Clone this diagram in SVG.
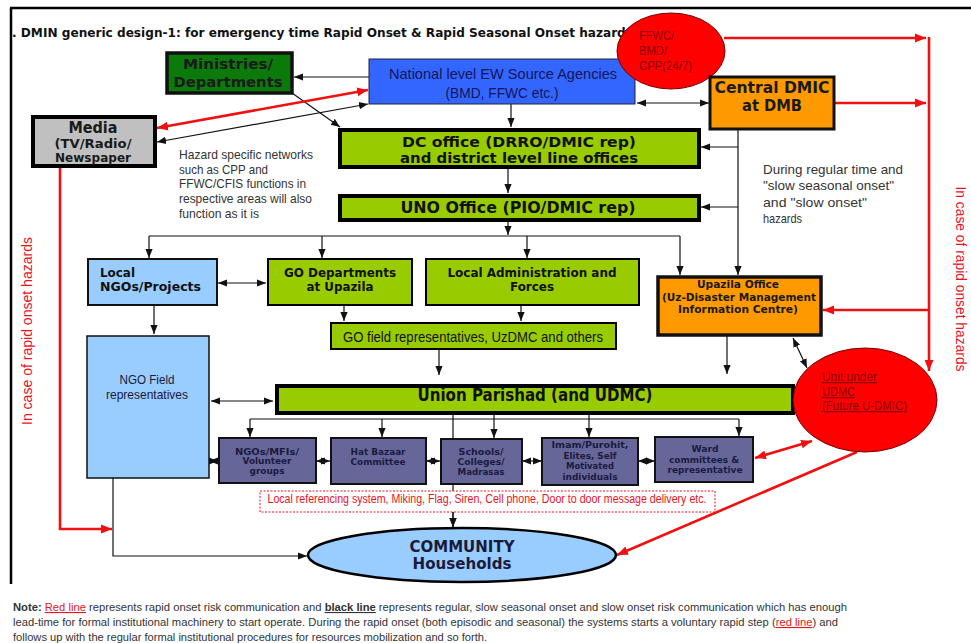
<svg xmlns="http://www.w3.org/2000/svg" width="971" height="643" viewBox="0 0 971 643">
<defs>
<style>
.b{font-family:"DejaVu Sans",Verdana,sans-serif;font-weight:bold;text-anchor:middle}
.n{font-family:"Liberation Sans",Arial,sans-serif;text-anchor:middle}
.nl{font-family:"Liberation Sans",Arial,sans-serif}
.k{fill:none;stroke:#111;stroke-width:1.2}
.r{fill:none;stroke:#f01010;stroke-width:2.6}
.grn{fill:#99cc00;stroke:#000}
.pur{fill:#666699;stroke:#111;stroke-width:2}
.pt{font-family:"DejaVu Sans",Verdana,sans-serif;font-weight:bold;text-anchor:middle;font-size:9px;fill:#1a1a40}
</style>
<marker id="a" viewBox="0 0 10 10" refX="10" refY="5" markerWidth="9" markerHeight="9" markerUnits="userSpaceOnUse" orient="auto-start-reverse"><path d="M0,1 L10,5 L0,9z" fill="#111"/></marker>
<marker id="ra" viewBox="0 0 10 10" refX="10" refY="5" markerWidth="11" markerHeight="11" markerUnits="userSpaceOnUse" orient="auto-start-reverse"><path d="M0,1 L10,5 L0,9z" fill="#f01010"/></marker>
</defs>
<rect width="971" height="643" fill="#fff"/>
<g id="frame" fill="none" stroke="#000" stroke-width="2.5">
<path d="M10,8 H971 M11,8 V584"/>
</g>
<text x="12" y="37" font-family="DejaVu Sans,Verdana,sans-serif" font-weight="bold" font-size="12" fill="#111" textLength="621" lengthAdjust="spacingAndGlyphs">. DMIN generic design-1: for emergency time Rapid Onset &amp; Rapid Seasonal Onset hazards</text>

<g id="connectors">
<path class="k" d="M369,77 H294" marker-end="url(#a)"/>
<path class="k" d="M292,93 L340,127" marker-end="url(#a)"/>
<path class="k" d="M368,104 L157,142" marker-start="url(#a)" marker-end="url(#a)"/>
<path class="k" d="M511,104 V127" marker-end="url(#a)"/>
<path class="k" d="M637,103 H709" marker-start="url(#a)" marker-end="url(#a)"/>
<path class="k" d="M508,168 V193" marker-end="url(#a)"/>
<path class="k" d="M738,129 V275" marker-end="url(#a)"/>
<path class="k" d="M738,147 H701" marker-end="url(#a)"/>
<path class="k" d="M738,207 H701" marker-end="url(#a)"/>
<path class="k" d="M508,221 V235" marker-end="url(#a)"/>
<path class="k" d="M149,236 H680"/>
<path class="k" d="M149,236 V258" marker-end="url(#a)"/>
<path class="k" d="M322,236 V258" marker-end="url(#a)"/>
<path class="k" d="M527,236 V258" marker-end="url(#a)"/>
<path class="k" d="M680,236 V275" marker-end="url(#a)"/>
<path class="k" d="M218,283 H266" marker-start="url(#a)" marker-end="url(#a)"/>
<path class="k" d="M344,305 V321" marker-end="url(#a)"/>
<path class="k" d="M521,305 V321" marker-end="url(#a)"/>
<path class="k" d="M154,305 V334" marker-end="url(#a)"/>
<path class="k" d="M439,349 V375" marker-end="url(#a)"/>
<path class="k" d="M727,336 V374" marker-end="url(#a)"/>
<path class="k" d="M793,338 L807,368" marker-start="url(#a)" marker-end="url(#a)"/>
<path class="k" d="M211,401 H273" marker-start="url(#a)" marker-end="url(#a)"/>
<path class="k" d="M250,419 H739"/>
<path class="k" d="M250,419 V437" marker-end="url(#a)"/>
<path class="k" d="M382,419 V437" marker-end="url(#a)"/>
<path class="k" d="M494,414 V438" marker-end="url(#a)"/>
<path class="k" d="M589,414 V437" marker-end="url(#a)"/>
<path class="k" d="M739,419 V436" marker-end="url(#a)"/>
<path class="k" d="M453,414 V527" marker-end="url(#a)"/>
<path class="k" d="M209,461 H218" marker-start="url(#a)" marker-end="url(#a)"/>
<path class="k" d="M316,461 H330" marker-start="url(#a)" marker-end="url(#a)"/>
<path class="k" d="M426,461 H440" marker-start="url(#a)" marker-end="url(#a)"/>
<path class="k" d="M522,461 H542" marker-start="url(#a)" marker-end="url(#a)"/>
<path class="k" d="M638,461 H655" marker-start="url(#a)" marker-end="url(#a)"/>
<path class="k" d="M113,478 V556 H307" marker-end="url(#a)"/>
<path class="r" d="M157,128 L368,90" marker-start="url(#ra)" marker-end="url(#ra)"/>
<path class="r" d="M724,38 H926" marker-end="url(#ra)"/>
<path class="r" d="M835,103 H926" marker-end="url(#ra)"/>
<path class="r" d="M929,37 V371" marker-end="url(#ra)"/>
<path class="r" d="M929,310 H823" marker-end="url(#ra)"/>
<path class="r" d="M812,441 L755,458" marker-start="url(#ra)" marker-end="url(#ra)"/>
<path class="r" d="M857,452 L617,555" marker-end="url(#ra)"/>
<path class="r" d="M60,167 V529 H112" marker-end="url(#ra)"/>
</g>

<g id="ministries">
<rect x="167" y="53" width="125" height="40" fill="#0b7a0b" stroke="#111" stroke-width="3.5"/>
<text class="b" x="228" y="69" font-size="14" fill="#1a1a1a" textLength="90" lengthAdjust="spacingAndGlyphs">Ministries/</text>
<text class="b" x="228" y="87" font-size="14" fill="#1a1a1a" textLength="109" lengthAdjust="spacingAndGlyphs">Departments</text>
</g>
<g id="national">
<rect x="369" y="59" width="266" height="45" fill="#3366ff" stroke="#223" stroke-width="1"/>
<text class="n" x="503" y="79" font-size="15" fill="#14145a" textLength="228" lengthAdjust="spacingAndGlyphs">National level EW Source Agencies</text>
<text class="n" x="502" y="98" font-size="15" fill="#14145a" textLength="113" lengthAdjust="spacingAndGlyphs">(BMD, FFWC etc.)</text>
</g>
<g id="ffwc">
<ellipse cx="671" cy="51" rx="54" ry="38" fill="#ff0000" stroke="#7a0000" stroke-width="1"/>
<text class="nl" x="639" y="40" font-size="12" fill="#8b0000" textLength="35" lengthAdjust="spacingAndGlyphs">FFWC/</text>
<text class="nl" x="639" y="55" font-size="12" fill="#8b0000" textLength="28" lengthAdjust="spacingAndGlyphs">BMD/</text>
<text class="nl" x="639" y="70" font-size="12" fill="#8b0000" textLength="53" lengthAdjust="spacingAndGlyphs">CPP(24/7)</text>
</g>
<g id="central">
<rect x="710" y="77" width="124" height="52" fill="#ff9900" stroke="#111" stroke-width="3"/>
<text class="b" x="772" y="93" font-size="15" fill="#1a1a1a" textLength="115" lengthAdjust="spacingAndGlyphs">Central DMIC</text>
<text class="b" x="772" y="111" font-size="15" fill="#1a1a1a" textLength="60" lengthAdjust="spacingAndGlyphs">at DMB</text>
</g>
<g id="media">
<rect x="33" y="117" width="122" height="49" fill="#c0c0c0" stroke="#000" stroke-width="4"/>
<text class="b" x="93" y="133" font-size="15" fill="#1a1a1a" textLength="49" lengthAdjust="spacingAndGlyphs">Media</text>
<text class="b" x="93" y="148" font-size="12" fill="#1a1a1a" textLength="77" lengthAdjust="spacingAndGlyphs">(TV/Radio/</text>
<text class="b" x="93" y="162" font-size="12" fill="#1a1a1a" textLength="76" lengthAdjust="spacingAndGlyphs">Newspaper</text>
</g>
<g id="dc">
<rect x="340" y="130" width="359" height="37" class="grn" stroke-width="4"/>
<text class="b" x="519" y="147" font-size="14.5" fill="#111" textLength="234" lengthAdjust="spacingAndGlyphs">DC office (DRRO/DMIC rep)</text>
<text class="b" x="519" y="163" font-size="14.5" fill="#111" textLength="238" lengthAdjust="spacingAndGlyphs">and district level line offices</text>
</g>
<g id="uno">
<rect x="340" y="196" width="359" height="24" class="grn" stroke-width="4"/>
<text class="b" x="518" y="213" font-size="16" fill="#111" textLength="235" lengthAdjust="spacingAndGlyphs">UNO Office (PIO/DMIC rep)</text>
</g>
<g id="hazard-note" class="nl" font-size="13" fill="#333">
<text x="179" y="159" textLength="134" lengthAdjust="spacingAndGlyphs">Hazard specific networks</text>
<text x="179" y="174" textLength="89" lengthAdjust="spacingAndGlyphs">such as CPP and</text>
<text x="179" y="188" textLength="127" lengthAdjust="spacingAndGlyphs">FFWC/CFIS functions in</text>
<text x="179" y="203" textLength="133" lengthAdjust="spacingAndGlyphs">respective areas will also</text>
<text x="179" y="218" textLength="80" lengthAdjust="spacingAndGlyphs">function as it is</text>
</g>
<g id="regular-note" class="nl" font-size="13.5" fill="#333">
<text x="763" y="174" textLength="140" lengthAdjust="spacingAndGlyphs">During regular time and</text>
<text x="763" y="190" textLength="131" lengthAdjust="spacingAndGlyphs">"slow seasonal onset"</text>
<text x="763" y="207" textLength="104" lengthAdjust="spacingAndGlyphs">and "slow onset"</text>
<text x="763" y="223" textLength="39" lengthAdjust="spacingAndGlyphs">hazards</text>
</g>
<g id="local-ngos">
<rect x="88" y="259" width="129" height="46" fill="#99ccff" stroke="#111" stroke-width="2"/>
<text x="100" y="277" font-size="12" font-weight="bold" font-family="DejaVu Sans,Verdana,sans-serif" fill="#111" textLength="35" lengthAdjust="spacingAndGlyphs">Local</text>
<text x="100" y="291" font-size="12" font-weight="bold" font-family="DejaVu Sans,Verdana,sans-serif" fill="#111" textLength="101" lengthAdjust="spacingAndGlyphs">NGOs/Projects</text>
</g>
<g id="go-depts">
<rect x="268" y="259" width="144" height="46" class="grn" stroke-width="2"/>
<text class="b" x="340" y="277" font-size="12" fill="#111" textLength="112" lengthAdjust="spacingAndGlyphs">GO Departments</text>
<text class="b" x="340" y="291" font-size="12" fill="#111" textLength="67" lengthAdjust="spacingAndGlyphs">at Upazila</text>
</g>
<g id="local-admin">
<rect x="426" y="259" width="213" height="46" class="grn" stroke-width="2"/>
<text class="b" x="532" y="277" font-size="12" fill="#111" textLength="169" lengthAdjust="spacingAndGlyphs">Local Administration and</text>
<text class="b" x="532" y="291" font-size="12" fill="#111" textLength="44" lengthAdjust="spacingAndGlyphs">Forces</text>
</g>
<g id="upazila">
<rect x="658" y="277" width="163" height="58" fill="#ff9900" stroke="#111" stroke-width="3.5"/>
<text class="b" x="738" y="288" font-size="11" fill="#1a1a1a" textLength="82" lengthAdjust="spacingAndGlyphs">Upazila Office</text>
<text class="b" x="739" y="301" font-size="11" fill="#1a1a1a" textLength="154" lengthAdjust="spacingAndGlyphs">(Uz-Disaster Management</text>
<text class="b" x="738" y="313" font-size="11" fill="#1a1a1a" textLength="120" lengthAdjust="spacingAndGlyphs">Information Centre)</text>
</g>
<g id="go-field">
<rect x="331" y="323" width="285" height="26" class="grn" stroke-width="2"/>
<text class="n" x="473" y="342" font-size="14.5" fill="#111" textLength="260" lengthAdjust="spacingAndGlyphs">GO field representatives, UzDMC and others</text>
</g>
<g id="ngo-field">
<rect x="87" y="336" width="122" height="142" fill="#99ccff" stroke="#111" stroke-width="1.5"/>
<text class="n" x="147" y="384" font-size="13" fill="#1a1a3a" textLength="55" lengthAdjust="spacingAndGlyphs">NGO Field</text>
<text class="n" x="147" y="399" font-size="13" fill="#1a1a3a" textLength="82" lengthAdjust="spacingAndGlyphs">representatives</text>
</g>
<g id="union">
<rect x="277" y="386" width="516" height="27" class="grn" stroke-width="4"/>
<text class="b" x="535" y="401" font-size="17" fill="#111" textLength="235" lengthAdjust="spacingAndGlyphs">Union Parishad (and UDMC)</text>
</g>
<g id="unit-udmc">
<ellipse cx="865" cy="400" rx="72" ry="52" fill="#ff0000" stroke="#7a0000" stroke-width="1"/>
<g class="nl" font-size="12.5" fill="#8b0000" text-decoration="underline">
<text x="822" y="381" textLength="55" lengthAdjust="spacingAndGlyphs">Unit under</text>
<text x="822" y="396" textLength="33" lengthAdjust="spacingAndGlyphs">UDMC</text>
<text x="822" y="410" textLength="85" lengthAdjust="spacingAndGlyphs">(Future U-DMIC)</text>
</g>
</g>
<g id="ngos-mfis">
<rect x="219" y="438" width="97" height="45" class="pur"/>
<text class="pt" x="267" y="455" textLength="64" lengthAdjust="spacingAndGlyphs">NGOs/MFIs/</text>
<text class="pt" x="267" y="464" textLength="49" lengthAdjust="spacingAndGlyphs">Volunteer</text>
<text class="pt" x="267" y="474" textLength="35" lengthAdjust="spacingAndGlyphs">groups</text>
</g>
<g id="hat-bazaar">
<rect x="331" y="438" width="95" height="46" class="pur"/>
<text class="pt" x="378" y="455" textLength="55" lengthAdjust="spacingAndGlyphs">Hat Bazaar</text>
<text class="pt" x="378" y="465" textLength="55" lengthAdjust="spacingAndGlyphs">Committee</text>
</g>
<g id="schools">
<rect x="441" y="439" width="81" height="45" class="pur"/>
<text class="pt" x="481" y="455" textLength="45" lengthAdjust="spacingAndGlyphs">Schools/</text>
<text class="pt" x="481" y="465" textLength="47" lengthAdjust="spacingAndGlyphs">Colleges/</text>
<text class="pt" x="481" y="475" textLength="47" lengthAdjust="spacingAndGlyphs">Madrasas</text>
</g>
<g id="imam">
<rect x="542" y="438" width="96" height="47" class="pur"/>
<text class="pt" x="590" y="448" textLength="77" lengthAdjust="spacingAndGlyphs">Imam/Purohit,</text>
<text class="pt" x="590" y="459" textLength="53" lengthAdjust="spacingAndGlyphs">Elites, Self</text>
<text class="pt" x="590" y="469" textLength="48" lengthAdjust="spacingAndGlyphs">Motivated</text>
<text class="pt" x="590" y="480" textLength="55" lengthAdjust="spacingAndGlyphs">individuals</text>
</g>
<g id="ward">
<rect x="655" y="437" width="98" height="45" class="pur"/>
<text class="pt" x="705" y="452" textLength="27" lengthAdjust="spacingAndGlyphs">Ward</text>
<text class="pt" x="704" y="463" textLength="70" lengthAdjust="spacingAndGlyphs">committees &amp;</text>
<text class="pt" x="705" y="473" textLength="75" lengthAdjust="spacingAndGlyphs">representative</text>
</g>
<g id="local-referencing">
<rect x="260" y="491" width="455" height="21" fill="#fff" stroke="#e8141e" stroke-width="1" stroke-dasharray="2,1.5"/>
<text class="n" x="487" y="503" font-size="12.5" fill="#e8141e" textLength="439" lengthAdjust="spacingAndGlyphs">Local referencing system, Miking, Flag, Siren, Cell phone, Door to door message delivery etc.</text>
</g>
<path class="k" d="M453,512 V527" marker-end="url(#a)"/>
<g id="community">
<ellipse cx="462" cy="555" rx="154" ry="27" fill="#99ccff" stroke="#000" stroke-width="2.5"/>
<text class="b" x="462" y="552" font-size="15" fill="#1a1a3a" textLength="105" lengthAdjust="spacingAndGlyphs">COMMUNITY</text>
<text class="b" x="462" y="569" font-size="15" fill="#1a1a3a" textLength="99" lengthAdjust="spacingAndGlyphs">Households</text>
</g>
<g id="side-labels" class="n" font-size="14" fill="#e8141e">
<text transform="translate(32,331) rotate(-90)" textLength="188" lengthAdjust="spacingAndGlyphs">In case of rapid onset hazards</text>
<text transform="translate(956,279) rotate(90)" textLength="185" lengthAdjust="spacingAndGlyphs">In case of rapid onset hazards</text>
</g>
<g id="note" class="nl" font-size="11" fill="#333">
<text x="13" y="611" textLength="834" lengthAdjust="spacingAndGlyphs"><tspan font-weight="bold">Note: </tspan><tspan fill="#e8141e" text-decoration="underline">Red line</tspan> represents rapid onset risk communication and <tspan text-decoration="underline" font-weight="bold">black line</tspan> represents regular, slow seasonal onset and slow onset risk communication which has enough</text>
<text x="13" y="626" textLength="825" lengthAdjust="spacingAndGlyphs">lead-time for formal institutional machinery to start operate. During the rapid onset (both episodic and seasonal) the systems starts a voluntary rapid step (<tspan fill="#e8141e" text-decoration="underline">red line</tspan>) and</text>
<text x="13" y="641" textLength="474" lengthAdjust="spacingAndGlyphs">follows up with the regular formal institutional procedures for resources mobilization and so forth.</text>
</g>
</svg>
